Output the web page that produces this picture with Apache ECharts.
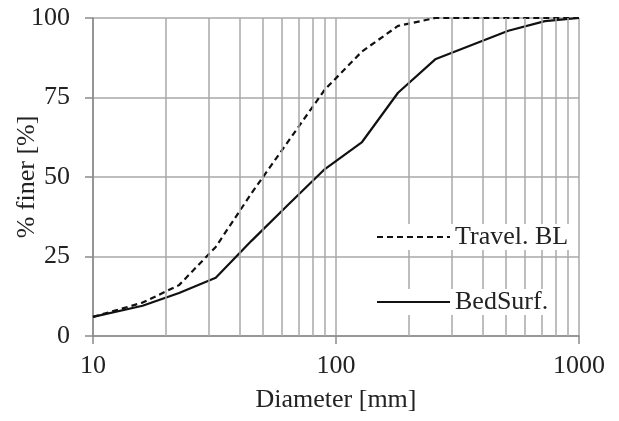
<!DOCTYPE html>
<html lang="en">
<head>
    <meta charset="UTF-8">
    <title>Grain size distribution</title>
    <script src="https://cdn.jsdelivr.net/npm/echarts@6/dist/echarts.min.js"></script>
</head>
<body style="margin:0">
<div id="chart" style="width: 619px;height: 421px;"></div>
<script>
    // grain diameters [mm]
    const diameters = [10, 16, 22.6, 32, 45, 64, 90, 128, 180, 256, 362, 512, 724, 1000];
    // % finer
    const travelBL = [6, 10.5, 16, 28, 45, 61.5, 77.5, 89.5, 97.5, 100, 100, 100, 100, 100];
    const bedSurf = [6, 9.5, 13.5, 18.3, 30, 41.5, 52.5, 61, 76.5, 87, 91.5, 96, 99, 100];
    // minor log grid lines
    const minorTicks = [20, 30, 40, 50, 60, 70, 80, 90, 200, 300, 400, 500, 600, 700, 800, 900];

    const serif = 'Liberation Serif';
    const gridColor = '#a8a8a8';
    const fs = 26;

    function pairs(xs, ys) {
        return xs.map((x, i) => [x, ys[i]]);
    }

    const chart = echarts.init(document.getElementById('chart'));
    const legendBase = {
        left: 376,
        itemWidth: 73,
        itemHeight: 14,
        padding: [0, 3, 0, 0],
        backgroundColor: '#fff',
        z: 10,
        itemStyle: {opacity: 0},
        textStyle: {fontSize: fs, fontFamily: serif, color: '#222'}
    };
    const option = {
        animation: false,
        textStyle: {fontFamily: serif, color: '#222'},
        grid: {left: 93, right: 40, top: 18, bottom: 85, containLabel: false, outerBoundsMode: 'none'},
        xAxis: {
            type: 'log',
            logBase: 10,
            min: 10,
            max: 1000,
            name: 'Diameter [mm]',
            nameLocation: 'middle',
            nameGap: 51,
            nameMoveOverlap: false,
            nameTextStyle: {fontSize: fs, fontFamily: serif, color: '#222'},
            axisLine: {lineStyle: {color: '#8a8a8a', width: 1.5}},
            axisTick: {show: true, length: 8, lineStyle: {color: '#8a8a8a', width: 1.5}},
            axisLabel: {
                fontSize: fs, fontFamily: serif, color: '#222', margin: 17,
                formatter: v => String(Math.round(v))
            },
            splitLine: {show: true, lineStyle: {color: gridColor, width: 1.5}}
        },
        yAxis: {
            type: 'value',
            min: 0,
            max: 100,
            interval: 25,
            name: '% finer [%]',
            nameLocation: 'middle',
            nameGap: 53,
            nameMoveOverlap: false,
            nameTextStyle: {fontSize: fs, fontFamily: serif, color: '#222'},
            axisLine: {show: true, lineStyle: {color: '#8a8a8a', width: 1.5}},
            axisTick: {show: true, length: 8, lineStyle: {color: '#8a8a8a', width: 1.5}},
            axisLabel: {fontSize: fs, fontFamily: serif, color: '#222', margin: 23},
            splitLine: {show: true, lineStyle: {color: gridColor, width: 1.5}}
        },
        legend: [
            Object.assign({}, legendBase, {data: ['Travel. BL'], top: 224}),
            Object.assign({}, legendBase, {data: ['BedSurf.'], top: 289})
        ],
        series: [{
            name: 'minor grid',
            type: 'line',
            data: [],
            silent: true,
            z: 1,
            markLine: {
                silent: true,
                symbol: 'none',
                label: {show: false},
                lineStyle: {color: gridColor, width: 1.5, type: 'solid'},
                data: minorTicks.map(v => ({xAxis: v}))
            }
        }, {
            name: 'Travel. BL',
            type: 'line',
            data: pairs(diameters, travelBL),
            symbol: 'none',
            z: 3,
            color: '#111',
            lineStyle: {color: '#111', width: 2.2, type: [6, 4]}
        }, {
            name: 'BedSurf.',
            type: 'line',
            data: pairs(diameters, bedSurf),
            symbol: 'none',
            z: 3,
            color: '#111',
            lineStyle: {color: '#111', width: 2.2}
        }]
    };
    chart.setOption(option);
</script>
</body>
</html>
